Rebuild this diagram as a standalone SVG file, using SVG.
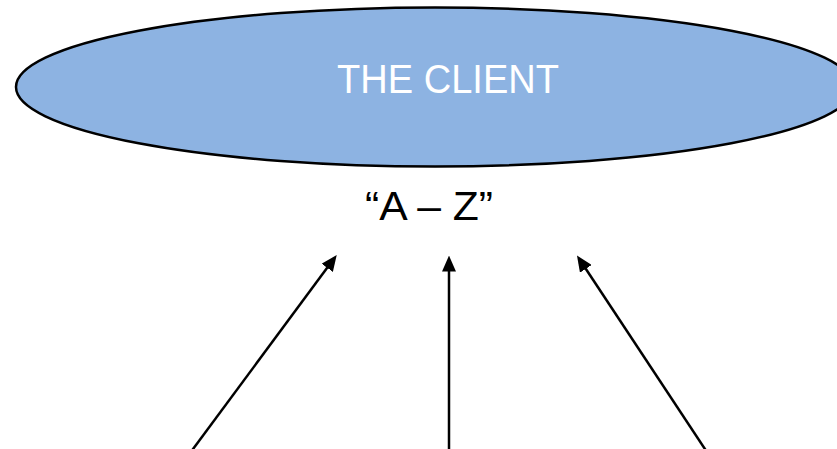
<svg xmlns="http://www.w3.org/2000/svg" width="837" height="449" viewBox="0 0 837 449">
  <style>
    .client { fill: #8DB3E2; stroke: #000000; stroke-width: 2.5; }
    .title { font-family: "Liberation Sans", Arial, sans-serif; font-size: 41px; fill: #FFFFFF; text-anchor: middle; }
    .label { font-family: "Liberation Sans", Arial, sans-serif; font-size: 40px; fill: #000000; text-anchor: middle; }
    .arrow { stroke: #000000; stroke-width: 2.5; fill: none; marker-end: url(#head); }
  </style>
  <defs>
    <marker id="head" markerUnits="userSpaceOnUse" markerWidth="16" markerHeight="14" refX="4" refY="7" orient="auto" viewBox="0 0 16 14">
      <path d="M0,0 L16,7 L0,14 z" fill="#000000"/>
    </marker>
  </defs>
  <g id="client">
    <ellipse class="client" cx="435" cy="87" rx="419" ry="79.5"/>
    <text class="title" x="448" y="93" textLength="222" lengthAdjust="spacingAndGlyphs">THE CLIENT</text>
  </g>
  <g id="label-az">
    <text class="label" x="429" y="220" textLength="128" lengthAdjust="spacingAndGlyphs">“A – Z”</text>
  </g>
  <g id="connectors">
    <line class="arrow" x1="192.3" y1="450" x2="329.6" y2="264.6"/>
    <line class="arrow" x1="449" y1="450" x2="449" y2="267.5"/>
    <line class="arrow" x1="705.6" y1="450" x2="583.6" y2="265.5"/>
  </g>
</svg>
